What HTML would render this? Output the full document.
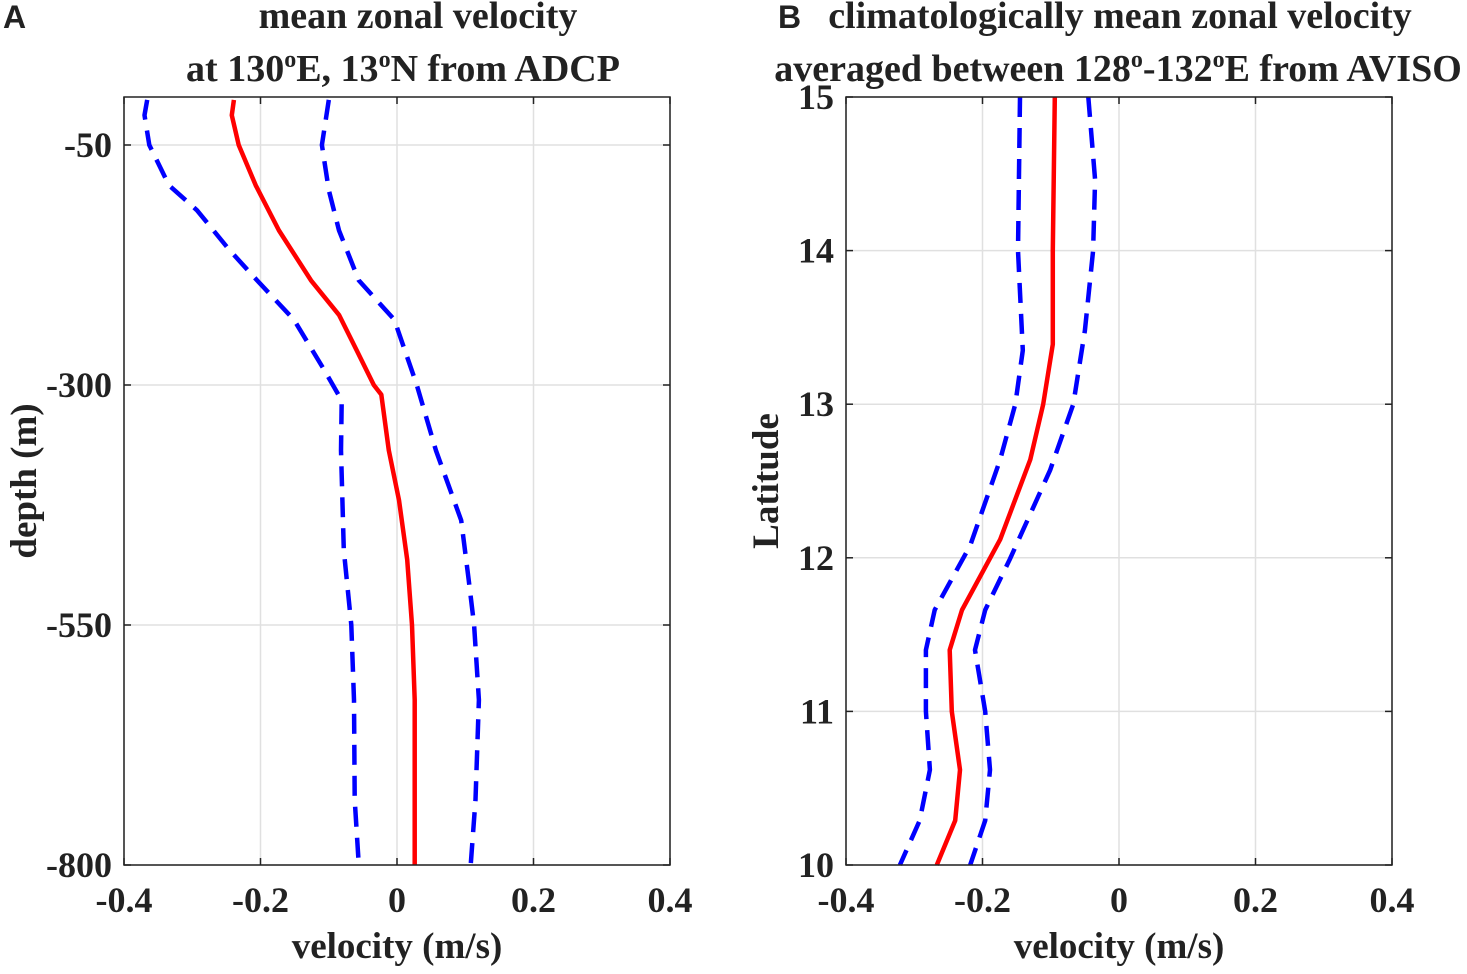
<!DOCTYPE html>
<html><head><meta charset="utf-8"><style>
body{margin:0;background:#fff;}
svg text{font-family:"Liberation Serif",serif;font-weight:bold;fill:#222;}
</style></head><body>
<svg id="chart" width="1467" height="969" xmlns="http://www.w3.org/2000/svg"></svg>
<script>
// Panel A data (velocity m/s vs depth m)
const depthA = [-3,-19,-50,-92,-139,-191,-227,-264,-300,-310,-368,-420,-482,-550,-628,-732,-800];
const meanA  = [-0.239,-0.242,-0.232,-0.207,-0.173,-0.126,-0.085,-0.059,-0.034,-0.023,-0.012,0.003,0.015,0.022,0.026,0.026,0.026];
const depthAL = [-3,-19,-50,-92,-118,-159,-191,-232,-284,-316,-368,-472,-550,-628,-732,-800];
const lowA   = [-0.366,-0.37,-0.363,-0.334,-0.293,-0.246,-0.205,-0.151,-0.107,-0.081,-0.082,-0.078,-0.067,-0.063,-0.062,-0.056];
const depthAR = [-3,-50,-97,-139,-191,-232,-300,-368,-441,-503,-550,-628,-732,-800];
const highA  = [-0.1,-0.11,-0.1,-0.085,-0.056,-0.004,0.029,0.057,0.094,0.105,0.113,0.12,0.115,0.108];
// Panel B data (velocity m/s vs latitude)
const latB   = [15,14,13.39,13,12.64,12.12,11.66,11.4,11,10.62,10.29,10];
const meanB  = [-0.094,-0.097,-0.097,-0.111,-0.13,-0.174,-0.23,-0.248,-0.245,-0.233,-0.24,-0.267];
const latBL  = [15,14,13.35,13,12.64,12.08,11.66,11.4,11,10.62,10.29,10];
const lowB   = [-0.145,-0.148,-0.141,-0.152,-0.174,-0.218,-0.27,-0.283,-0.283,-0.277,-0.292,-0.321];
const latBR  = [15,14.46,14,13.48,13,12.57,11.99,11.66,11.4,11,10.62,10.29,10];
const highB  = [-0.045,-0.035,-0.038,-0.05,-0.067,-0.101,-0.16,-0.196,-0.211,-0.196,-0.189,-0.196,-0.218];
const xTicks = [-0.4,-0.2,0,0.2,0.4];
const xTickLabels = ["-0.4","-0.2","0","0.2","0.4"];
const yTicksA = [-50,-300,-550,-800];
const yTicksB = [10,11,12,13,14,15];

const NS="http://www.w3.org/2000/svg";
const svg=document.getElementById('chart');
function mk(tag,attrs,parent){const e=document.createElementNS(NS,tag);for(const k in attrs)e.setAttribute(k,attrs[k]);(parent||svg).appendChild(e);return e;}

function panel(cfg){
  const g=mk('g',{});
  
  
  const L=cfg.l,R=cfg.r,T=97,B=865;
  const xs=v=>L+(v+0.4)/0.8*(R-L);
  const ys=v=>T+(cfg.ymax-v)/(cfg.ymax-cfg.ymin)*(B-T);
  xTicks.forEach(t=>{const l=mk('line',{x1:xs(t),x2:xs(t),y1:T,y2:B,stroke:'#e0e0e0','stroke-width':1.5},g);
    });
  cfg.yticks.forEach(t=>{const l=mk('line',{x1:L,x2:R,y1:ys(t),y2:ys(t),stroke:'#e0e0e0','stroke-width':1.5},g);
    });
  const line=(xv,yv,color,dash,name)=>{
    const pts=xv.map((v,i)=>xs(v).toFixed(1)+','+ys(yv[i]).toFixed(1)).join(' ');
    const p=mk('polyline',{points:pts,fill:'none',stroke:color,'stroke-width':4.5,'stroke-dasharray':dash||'none','stroke-linejoin':'round'},g);
    
    
  };
  line(cfg.low,cfg.lowY,'#0000ff','20,11',cfg.name+'-lower-bound');
  line(cfg.high,cfg.highY,'#0000ff','20,11',cfg.name+'-upper-bound');
  line(cfg.mean,cfg.meanY,'#ff0000',null,cfg.name+'-mean-line');
  const fr=mk('rect',{x:L,y:T,width:R-L,height:B-T,fill:'none',stroke:'#222','stroke-width':1.5},g);
  
  xTicks.forEach((t,i)=>{
    mk('line',{x1:xs(t),x2:xs(t),y1:B,y2:B-7,stroke:'#222','stroke-width':1.5},g);
    mk('line',{x1:xs(t),x2:xs(t),y1:T,y2:T+7,stroke:'#222','stroke-width':1.5},g);
    const tx=mk('text',{x:xs(t),y:B+47,'text-anchor':'middle','font-size':36},g);tx.textContent=xTickLabels[i];
    
  });
  cfg.yticks.forEach(t=>{
    mk('line',{x1:L,x2:L+7,y1:ys(t),y2:ys(t),stroke:'#222','stroke-width':1.5},g);
    mk('line',{x1:R,x2:R-7,y1:ys(t),y2:ys(t),stroke:'#222','stroke-width':1.5},g);
    const tx=mk('text',{x:L-12,y:ys(t)+12,'text-anchor':'end','font-size':36},g);tx.textContent=String(t);
    
  });
  const xl=mk('text',{x:(L+R)/2,y:958,'text-anchor':'middle','font-size':37},g);xl.textContent='velocity (m/s)';
  
  const yl=mk('text',{x:0,y:0,'text-anchor':'middle','font-size':37,transform:`translate(${cfg.ylx},${(T+B)/2}) rotate(-90)`},g);yl.textContent=cfg.ylabel;
  
}

panel({name:'panel-a',l:124,r:670,ymin:-800,ymax:0,yticks:yTicksA,ylabel:'depth (m)',ylx:36,
  mean:meanA,meanY:depthA,low:lowA,lowY:depthAL,high:highA,highY:depthAR});
panel({name:'panel-b',l:846,r:1392,ymin:10,ymax:15,yticks:yTicksB,ylabel:'Latitude',ylx:778,
  mean:meanB,meanY:latB,low:lowB,lowY:latBL,high:highB,highY:latBR});
</script>
<svg width="1467" height="969" style="position:absolute;left:0;top:0" xmlns="http://www.w3.org/2000/svg">
<text x="3" y="28" font-size="32" style="font-family:'Liberation Sans',sans-serif;font-weight:bold">A</text>
<text x="778" y="28" font-size="32" style="font-family:'Liberation Sans',sans-serif;font-weight:bold">B</text>
<text x="418" y="28" text-anchor="middle" font-size="38" style="font-family:'Liberation Serif',serif;font-weight:bold">mean zonal velocity</text>
<text x="403" y="81" text-anchor="middle" font-size="38" style="font-family:'Liberation Serif',serif;font-weight:bold">at 130<tspan dy="-14" font-size="24">o</tspan><tspan dy="14">E, 13</tspan><tspan dy="-14" font-size="24">o</tspan><tspan dy="14">N from ADCP</tspan></text>
<text x="1120" y="28" text-anchor="middle" font-size="38" style="font-family:'Liberation Serif',serif;font-weight:bold">climatologically mean zonal velocity</text>
<text x="1118" y="81" text-anchor="middle" font-size="38" style="font-family:'Liberation Serif',serif;font-weight:bold">averaged between 128<tspan dy="-14" font-size="24">o</tspan><tspan dy="14">-132</tspan><tspan dy="-14" font-size="24">o</tspan><tspan dy="14">E from AVISO</tspan></text>
</svg>
</body></html>
